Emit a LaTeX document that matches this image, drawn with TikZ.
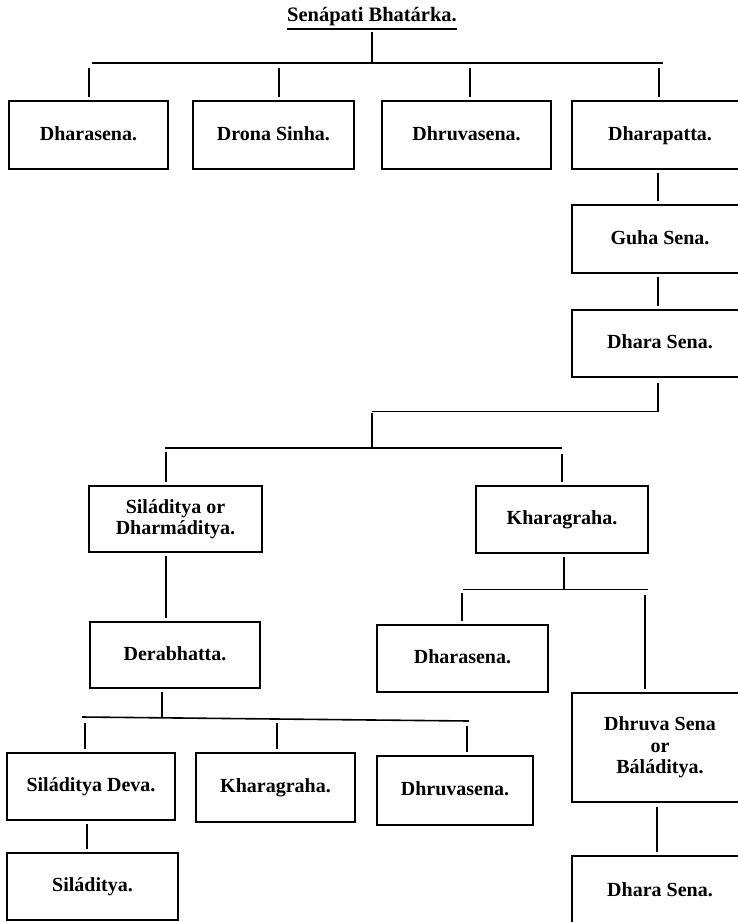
\documentclass[tikz,border=0pt]{standalone}
\usepackage{fontspec}
\setmainfont{Liberation Serif}
\begin{document}
\begin{tikzpicture}[x=1pt,y=-1pt,
  box/.style={draw, line width=1.6pt, inner sep=0pt, align=center,
    font=\fontsize{20}{21}\selectfont\bfseries},
  one/.style={text height=14pt, text depth=4pt},
  conn/.style={line width=2.2pt, shorten <=3pt, shorten >=3pt},
  bar/.style={line width=1.6pt},
  titlefont/.style={font=\fontsize{20.5}{21}\selectfont\bfseries}]
\clip (0,0) rectangle (738,922);
\fill[white] (0,0) rectangle (738,922);

% title
\node[titlefont, inner sep=0pt, anchor=base] (title) at (372,21) {Senápati Bhatárka.};
\draw[bar] ([yshift=-8pt]title.base west) -- ([yshift=-8pt]title.base east);

% row 1
\node[box, one, minimum width=159pt, minimum height=68pt] (dA) at (88.5,135) {Dharasena.};
\node[box, one, minimum width=161pt, minimum height=68pt] (drona) at (273.5,135) {Drona Sinha.};
\node[box, one, minimum width=169pt, minimum height=68pt] (dhruA) at (466.5,135) {Dhruvasena.};
\node[box, one, minimum width=176pt, minimum height=68pt] (dharapatta) at (660,135) {Dharapatta.};

% right column
\node[box, one, minimum width=176pt, minimum height=68pt] (guha) at (660,239) {Guha Sena.};
\node[box, one, minimum width=176pt, minimum height=67pt] (dharaS) at (660,343.5) {Dhara Sena.};

% level 4
\node[box, minimum width=173pt, minimum height=66pt] (silOr) at (175.5,519) {Siláditya or\\Dharmáditya.};
\node[box, one, minimum width=172pt, minimum height=67pt] (kharA) at (562,519.5) {Kharagraha.};

% level 5
\node[box, one, minimum width=170pt, minimum height=66pt] (dera) at (175,655) {Derabhatta.};
\node[box, one, minimum width=171pt, minimum height=67pt] (dharasenaB) at (462.5,658.5) {Dharasena.};
\node[box, minimum width=176pt, minimum height=109pt, font=\fontsize{20}{21.5}\selectfont\bfseries] (dhruvaSena) at (660,747.5) {Dhruva Sena\\or\\Báláditya.};

% level 6
\node[box, one, minimum width=168pt, minimum height=67pt] (silDeva) at (91,786.5) {Siláditya Deva.};
\node[box, one, minimum width=159pt, minimum height=69pt] (kharB) at (275.5,787.5) {Kharagraha.};
\node[box, one, minimum width=156pt, minimum height=69pt] (dhruB) at (455,790.5) {Dhruvasena.};

% level 7
\node[box, one, minimum width=171pt, minimum height=67pt] (silad) at (92.5,886.5) {Siláditya.};
\node[box, one, minimum width=176pt, minimum height=71pt] (dharaBottom) at (660,891.5) {Dhara Sena.};

% junction coordinates
\coordinate (c1) at (372,63);
\coordinate (b1L) at (92,63);
\coordinate (b1R) at (663,63);
\coordinate (j11) at (89,65);
\coordinate (j12) at (279,65);
\coordinate (j13) at (470,65);
\coordinate (j14) at (659,65);
\coordinate (vR) at (658,0);
\coordinate (c2) at (658,411.5);
\coordinate (b2L) at (372,411.5);
\coordinate (c3) at (372,448);
\coordinate (b3L) at (165,448);
\coordinate (b3R) at (562,448);
\coordinate (j31) at (166,449);
\coordinate (j32) at (562,451);
\coordinate (vL) at (166,0);
\coordinate (vK) at (564,0);
\coordinate (c4) at (564,589.5);
\coordinate (b4L) at (463,589.5);
\coordinate (b4R) at (648,589.5);
\coordinate (j41) at (462,590);
\coordinate (j42) at (645,592);
\coordinate (vD) at (657,0);
\coordinate (vE) at (162,0);
\coordinate (c5) at (162,717.5);
\coordinate (b5L) at (82,717);
\coordinate (b5R) at (469,721);
\coordinate (j51) at (85,720);
\coordinate (j52) at (277,720);
\coordinate (j53) at (467,723);
\coordinate (vS) at (87,0);

% connectors
\draw[conn, shorten <=0pt, shorten >=1pt] ([yshift=-11pt]title.base) -- (c1);
\draw[bar] (b1L) -- (b1R);
\draw[conn] (j11) -- (j11 |- dA.north);
\draw[conn] (j12) -- (j12 |- drona.north);
\draw[conn] (j13) -- (j13 |- dhruA.north);
\draw[conn] (j14) -- (j14 |- dharapatta.north);

\draw[conn] (vR |- dharapatta.south) -- (vR |- guha.north);
\draw[conn] (vR |- guha.south) -- (vR |- dharaS.north);
\draw[conn, shorten >=0pt, shorten <=5pt] (vR |- dharaS.south) -- (c2);
\draw[bar] (b2L) -- (c2);
\draw[conn, shorten <=1pt, shorten >=1pt] (b2L) -- (c3);
\draw[bar] (b3L) -- (b3R);
\draw[conn] (j31) -- (j31 |- silOr.north);
\draw[conn] (j32) -- (j32 |- kharA.north);

\draw[conn] (vL |- silOr.south) -- (vL |- dera.north);
\draw[conn, shorten >=0pt] (vK |- kharA.south) -- (c4);
\draw[bar] (b4L) -- (b4R);
\draw[conn] (j41) -- (j41 |- dharasenaB.north);
\draw[conn] (j42) -- (j42 |- dhruvaSena.north);
\draw[conn, shorten <=4pt] (vD |- dhruvaSena.south) -- (vD |- dharaBottom.north);

\draw[conn, shorten >=0pt] (vE |- dera.south) -- (c5);
\draw[bar] (b5L) -- (b5R);
\draw[conn] (j51) -- (j51 |- silDeva.north);
\draw[conn] (j52) -- (j52 |- kharB.north);
\draw[conn] (j53) -- (j53 |- dhruB.north);
\draw[conn] (vS |- silDeva.south) -- (vS |- silad.north);
\end{tikzpicture}
\end{document}
